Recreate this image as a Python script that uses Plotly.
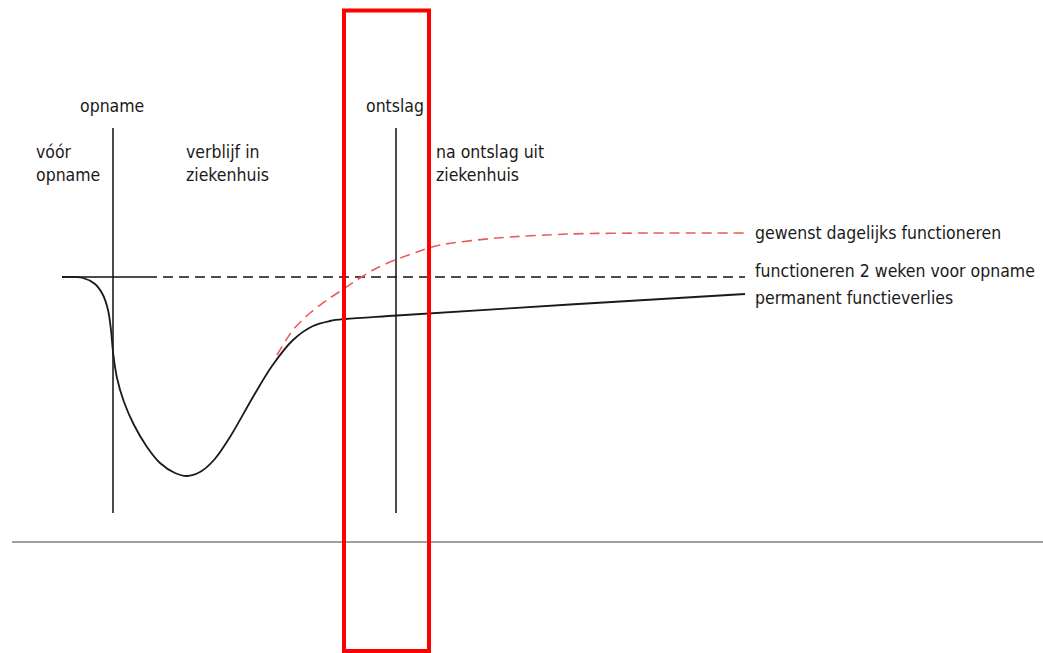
import plotly.graph_objects as go

# ---- data (schematic coordinates: x = time, y = level in drawing units, top = 0) ----
curve_x = [62, 83, 95, 103, 108, 111, 113, 117, 124, 134, 147, 160, 175, 187, 200,
           214, 230, 253, 272, 293, 313, 330, 345, 397, 570, 745]
curve_y = [277, 278, 284, 295, 310, 330, 352, 378, 402, 425, 447, 463, 473, 476, 472,
           460, 437, 397, 366, 340, 326, 321, 319, 315.5, 304.5, 294]

desired_x = [277, 293, 310, 327, 342, 357, 373, 395, 417, 440, 497, 570, 650, 745]
desired_y = [355, 330, 313, 300, 290, 280, 270, 260, 252, 245, 238, 234, 233, 233]

baseline_level = 277
baseline_solid_x = [62, 147]
baseline_dash_x = [147, 745]

event_x = [113, 396]
event_labels = ["opname", "ontslag"]
event_top = 128
event_bottom = 513

ground_level = 542
ground_x = [12, 1043]

phase_x = [34, 184, 434]
phase_labels = ["vóór<br>opname", "verblijf in<br>ziekenhuis", "na ontslag uit<br>ziekenhuis"]

legend_x = 753
legend_labels = ["gewenst dagelijks functioneren",
                 "functioneren 2 weken voor opname",
                 "permanent functieverlies"]
legend_y = [233, 271, 298]

highlight_x = [344, 429]
highlight_y = [10.5, 651]

FONT = "DejaVu Sans Condensed, Liberation Sans Narrow, sans-serif"
TXT = "#1a1a1a"

fig = go.Figure()

# ground line
fig.add_trace(go.Scatter(x=ground_x, y=[ground_level] * 2, mode="lines",
                         line=dict(color="#808080", width=1.6), hoverinfo="skip"))

# event vertical lines
for ex in event_x:
    fig.add_trace(go.Scatter(x=[ex, ex], y=[event_top, event_bottom], mode="lines",
                             line=dict(color="#111111", width=1.5), hoverinfo="skip"))

# baseline (functioning 2 weeks before admission)
fig.add_trace(go.Scatter(x=baseline_solid_x, y=[baseline_level] * 2, mode="lines",
                         line=dict(color="#111111", width=1.6), hoverinfo="skip"))
fig.add_trace(go.Scatter(x=baseline_dash_x, y=[baseline_level] * 2, mode="lines",
                         line=dict(color="#111111", width=1.6, dash="10px,6px"), hoverinfo="skip"))

# desired functioning (red dashed)
fig.add_trace(go.Scatter(x=desired_x, y=desired_y, mode="lines",
                         line=dict(color="#ee5a5a", width=1.6, dash="10px,6px",
                                   shape="spline", smoothing=0.8), hoverinfo="skip"))

# actual functioning curve
fig.add_trace(go.Scatter(x=curve_x, y=curve_y, mode="lines",
                         line=dict(color="#1a1a1a", width=1.8, shape="spline", smoothing=1.0),
                         hoverinfo="skip"))

annotations = []
for ex, lab in zip(event_x, event_labels):
    annotations.append(dict(x=ex - 1, y=106, text=lab, xanchor="center", yanchor="middle"))
for px, lab in zip(phase_x, phase_labels):
    annotations.append(dict(x=px, y=163, text=lab, xanchor="left", yanchor="middle", align="left"))
for ly, lab in zip(legend_y, legend_labels):
    annotations.append(dict(x=legend_x, y=ly, text=lab, xanchor="left", yanchor="middle"))
for a in annotations:
    a.update(xref="x", yref="y", showarrow=False, font=dict(family=FONT, size=17.5, color=TXT))

fig.update_layout(
    width=1043, height=653,
    margin=dict(l=0, r=0, t=0, b=0),
    paper_bgcolor="white", plot_bgcolor="white",
    showlegend=False,
    annotations=annotations,
    shapes=[dict(type="rect", xref="x", yref="y",
                 x0=highlight_x[0], x1=highlight_x[1], y0=highlight_y[0], y1=highlight_y[1],
                 line=dict(color="#ff0000", width=4), fillcolor="rgba(0,0,0,0)")],
    xaxis=dict(range=[0, 1043], visible=False, fixedrange=True),
    yaxis=dict(range=[653, 0], visible=False, fixedrange=True),
)

fig.write_html("out.html", config=dict(displayModeBar=False, staticPlot=True),
               post_script="document.body.style.margin='0';document.body.style.overflow='hidden';")
